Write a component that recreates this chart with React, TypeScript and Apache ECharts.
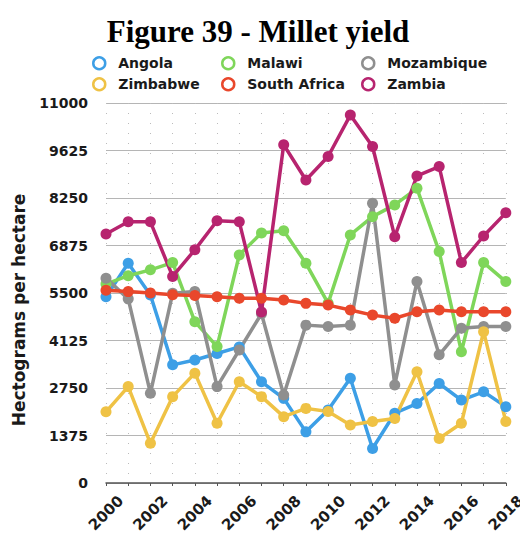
import React, { useEffect, useRef } from "react";
import * as echarts from "echarts";

const years = ["2000","2001","2002","2003","2004","2005","2006","2007","2008","2009","2010","2011","2012","2013","2014","2015","2016","2017","2018"];
const angola = [5390, 6360, 5440, 3420, 3560, 3750, 3940, 2930, 2450, 1480, 2110, 3030, 1000, 2020, 2300, 2880, 2400, 2640, 2210];
const malawi = [5760, 6000, 6170, 6380, 4670, 3950, 6600, 7240, 7300, 6360, 5200, 7180, 7710, 8050, 8530, 6700, 3800, 6380, 5830];
const mozambique = [5930, 5330, 2600, 5490, 5540, 2790, 3850, 4900, 2550, 4570, 4530, 4570, 8100, 2840, 5830, 3710, 4480, 4530, 4530];
const zimbabwe = [2060, 2790, 1150, 2500, 3180, 1730, 2930, 2500, 1920, 2160, 2070, 1680, 1780, 1870, 3220, 1290, 1730, 4380, 1780];
const southAfrica = [5580, 5540, 5500, 5450, 5430, 5390, 5350, 5350, 5300, 5200, 5150, 5010, 4860, 4770, 4960, 5010, 4960, 4960, 4960];
const zambia = [7210, 7560, 7560, 5980, 6750, 7590, 7560, 4950, 9790, 8770, 9450, 10650, 9740, 7130, 8890, 9160, 6380, 7150, 7820];
const yTicks = [0, 1375, 2750, 4125, 5500, 6875, 8250, 9625, 11000];

const seriesDefs = [
  { name: "Angola", data: angola, color: "#3d9fe6" },
  { name: "Malawi", data: malawi, color: "#7fd65a" },
  { name: "Mozambique", data: mozambique, color: "#8f8f8f" },
  { name: "Zimbabwe", data: zimbabwe, color: "#efc245" },
  { name: "South Africa", data: southAfrica, color: "#e9472b" },
  { name: "Zambia", data: zambia, color: "#b7246f" },
];

const legendPos = [
  { left: 79, top: 43 },
  { left: 208, top: 43 },
  { left: 348, top: 43 },
  { left: 79, top: 64 },
  { left: 208, top: 64 },
  { left: 348, top: 64 },
];

export default function App() {
  const ref = useRef<HTMLDivElement>(null);
  useEffect(() => {
    if (!ref.current) return;
    const chart = echarts.init(ref.current, null, { renderer: "svg" });
    const sans = "DejaVu Sans";
    chart.setOption({
      animation: false,
      backgroundColor: "#ffffff",
      title: {
        text: "Figure 39 - Millet yield",
        left: 245,
        top: 3,
        textAlign: "center",
        textStyle: { fontFamily: "Liberation Serif", fontWeight: "bold", fontSize: 31, color: "#000" },
      },
      legend: seriesDefs.map((s, i) => ({
        data: [s.name],
        left: legendPos[i].left,
        top: legendPos[i].top,
        icon: "circle",
        itemWidth: 12,
        itemHeight: 12,
        itemStyle: { color: "#ffffff", borderColor: s.color, borderWidth: 2.5 },
        textStyle: { fontFamily: sans, fontWeight: "bold", fontSize: 14, color: "#1a1a1a", padding: [0, 0, 0, 8] },
      })),
      grid: { left: 98, right: 19, top: 95, bottom: 55 },
      graphic: [
        {
          type: "text",
          x: 11,
          y: 302,
          rotation: Math.PI / 2,
          style: {
            text: "Hectograms per hectare",
            font: "bold 17px 'DejaVu Sans'",
            fill: "#1a1a1a",
            textAlign: "center",
            textVerticalAlign: "middle",
          },
        },
      ],
      xAxis: {
        type: "category",
        data: years,
        boundaryGap: false,
        axisLine: { lineStyle: { color: "#555", width: 1.5 } },
        axisTick: { show: true, alignWithLabel: true, interval: 0, length: 3, lineStyle: { color: "#555" } },
        axisLabel: {
          interval: 1,
          rotate: 45,
          margin: 30,
          align: "center",
          verticalAlign: "middle",
          fontFamily: sans,
          fontWeight: "bold",
          fontSize: 15,
          color: "#1a1a1a",
        },
        splitLine: { show: true, interval: 0, lineStyle: { color: "#bbbbbb", type: [1, 9], width: 1 } },
      },
      yAxis: {
        type: "value",
        min: 0,
        max: 11000,
        interval: 1375,
        axisLine: { show: false },
        axisTick: { show: false },
        axisLabel: {
          margin: 18,
          fontFamily: sans,
          fontWeight: "bold",
          fontSize: 14,
          color: "#1a1a1a",
          formatter: (v: number) => (yTicks.includes(v) ? String(v) : ""),
        },
        splitLine: { show: true, lineStyle: { color: "#b5b5b5", width: 1.2 } },
      },
      series: seriesDefs.map((s) => ({
        name: s.name,
        type: "line",
        data: s.data,
        symbol: "circle",
        symbolSize: 11,
        lineStyle: { color: s.color, width: 3.5 },
        itemStyle: { color: s.color },
      })),
    });
    return () => chart.dispose();
  }, []);
  return <div ref={ref} style={{ width: 520, height: 530 }} />;
}
